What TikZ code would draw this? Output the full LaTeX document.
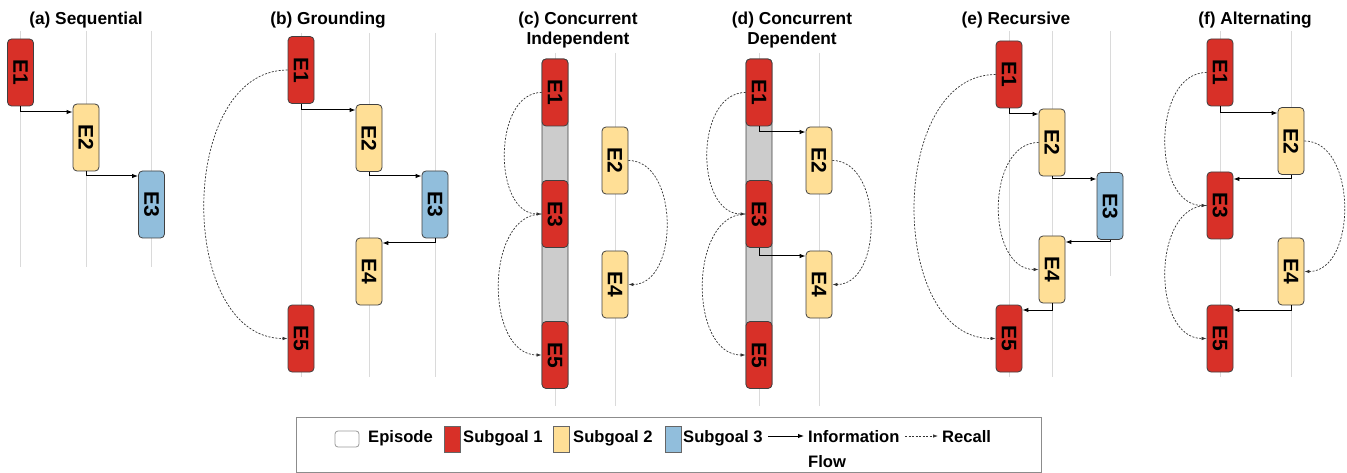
\documentclass[tikz,border=0pt]{standalone}
\usepackage{fontspec}
\setmainfont{Liberation Sans}
\usepackage{graphicx}
\definecolor{sgred}{RGB}{216,48,40}
\definecolor{sgyellow}{RGB}{255,223,150}
\definecolor{sgblue}{RGB}{145,190,220}
\definecolor{epgray}{RGB}{204,204,204}
\definecolor{lanegray}{RGB}{218,218,218}
\usetikzlibrary{arrows.meta}
\newcommand{\vlab}[1]{\rotatebox{-90}{#1}}

\begin{document}
\begin{tikzpicture}[x=1pt,y=-1pt,
  sg/.style={draw=black!75,line width=0.8pt,rounded corners=4pt,minimum width=26pt,
    minimum height=67pt,inner sep=0pt,font=\fontsize{21}{21}\selectfont\bfseries},
  sg1/.style={sg,fill=sgred},
  sg2/.style={sg,fill=sgyellow},
  sg3/.style={sg,fill=sgblue},
  epbar/.style={draw=black!75,line width=0.8pt,rounded corners=4pt,fill=epgray,
    minimum width=26pt,minimum height=329pt,inner sep=0pt},
  lane/.style={draw=lanegray,line width=0.8pt},
  ttl/.style={font=\fontsize{17.3}{20.5}\selectfont\bfseries,align=center,anchor=north,inner sep=0pt},
  flow/.style={draw=black,line width=1pt,-{Latex[length=6pt,width=4.5pt]}},
  recall/.style={draw=black!80,line width=0.7pt,dash pattern=on 2pt off 1.5pt,-{Latex[length=5pt,width=3.5pt]}},
  lgt/.style={font=\fontsize{16.6}{25}\selectfont\bfseries,anchor=base west,inner sep=0pt},
  swatch/.style={draw=black!60,line width=0.8pt,minimum width=16pt,minimum height=26pt,inner sep=0pt}
]
  \useasboundingbox (0,0) rectangle (1347,473);

  \draw[lane] (20.5,31) -- (20.5,267);
  \draw[lane] (86,31) -- (86,267);
  \draw[lane] (151.5,31) -- (151.5,267);
  \draw[lane] (301,33) -- (301,377);
  \draw[lane] (369,33) -- (369,377);
  \draw[lane] (435,33) -- (435,377);
  \draw[lane] (555,53) -- (555,406);
  \draw[lane] (615,53) -- (615,406);
  \draw[lane] (759,53) -- (759,406);
  \draw[lane] (819,53) -- (819,406);
  \draw[lane] (1009,31) -- (1009,377);
  \draw[lane] (1052,31) -- (1052,377);
  \draw[lane] (1110,31) -- (1110,276);
  \draw[lane] (1220,31) -- (1220,377);
  \draw[lane] (1291,31) -- (1291,377);

  \node[ttl] (ta) at (86,11.5) {(a) Sequential};
  \node[ttl] (tb) at (328,11.5) {(b) Grounding};
  \node[ttl] (tc) at (578,11.5) {(c) Concurrent\\Independent};
  \node[ttl] (td) at (792,11.5) {(d) Concurrent\\Dependent};
  \node[ttl] (te) at (1016,11.5) {(e) Recursive};
  \node[ttl] (tf) at (1255,11.5) {(f) Alternating};

  \node[sg1] (a1) at (20.5,72.5) {\vlab{E1}};
  \node[sg2] (a2) at (86,137.5) {\vlab{E2}};
  \node[sg3] (a3) at (151.5,204.5) {\vlab{E3}};
  \draw[flow] (a1.south) |- (a2.west |- 0,112);
  \draw[flow] (a2.south) |- (a3.west |- 0,176);

  \node[sg1] (b1) at (301,70) {\vlab{E1}};
  \node[sg2] (b2) at (369,138) {\vlab{E2}};
  \node[sg3] (b3) at (435,204.5) {\vlab{E3}};
  \node[sg2] (b4) at (369,271.5) {\vlab{E4}};
  \node[sg1] (b5) at (301,338.5) {\vlab{E5}};
  \draw[flow] (b1.south) |- (b2.west |- 0,110);
  \draw[flow] (b2.south) |- (b3.west |- 0,176);
  \draw[flow] (b3.south) |- (b4.east |- 0,243);
  \draw[recall] (b1.west) .. controls +(-111,0) and +(-111,0) .. (b5.west);

  \node[epbar] (cbar) at (555,223.5) {};
  \node[sg1] (c1) at (555,92.5) {\vlab{E1}};
  \node[sg1] (c3) at (555,214) {\vlab{E3}};
  \node[sg1] (c5) at (555,355) {\vlab{E5}};
  \node[sg2] (c2) at (615,160.5) {\vlab{E2}};
  \node[sg2] (c4) at (615,284.5) {\vlab{E4}};
  \draw[recall] (c1.west) .. controls +(-49,0) and +(-49,0) .. (c3.west);
  \draw[recall] (c3.west) .. controls +(-57,0) and +(-57,0) .. (c5.west);
  \draw[recall] (c2.east) .. controls +(51,0) and +(51,0) .. (c4.east);

  \node[epbar] (dbar) at (759,223.5) {};
  \node[sg1] (d1) at (759,92.5) {\vlab{E1}};
  \node[sg1] (d3) at (759,214) {\vlab{E3}};
  \node[sg1] (d5) at (759,355) {\vlab{E5}};
  \node[sg2] (d2) at (819,160.5) {\vlab{E2}};
  \node[sg2] (d4) at (819,284.5) {\vlab{E4}};
  \draw[flow] (d1.south) |- (d2.west |- 0,132);
  \draw[flow] (d3.south) |- (d4.west |- 0,256);
  \draw[recall] (d1.west) .. controls +(-51,0) and +(-51,0) .. (d3.west);
  \draw[recall] (d3.west) .. controls +(-57,0) and +(-57,0) .. (d5.west);
  \draw[recall] (d2.east) .. controls +(51,0) and +(51,0) .. (d4.east);

  \node[sg1] (e1) at (1009,74.5) {\vlab{E1}};
  \node[sg2] (e2) at (1052,142.5) {\vlab{E2}};
  \node[sg3] (e3) at (1110,206) {\vlab{E3}};
  \node[sg2] (e4) at (1052,269.5) {\vlab{E4}};
  \node[sg1] (e5) at (1009,338.5) {\vlab{E5}};
  \draw[flow] (e1.south) |- (e2.west |- 0,114);
  \draw[flow] (e2.south) |- (e3.west |- 0,179);
  \draw[flow] (e3.south) |- (e4.east |- 0,242);
  \draw[flow] (e4.south) |- (e5.east |- 0,310);
  \draw[recall] (e1.west) .. controls +(-108,0) and +(-108,0) .. (e5.west);
  \draw[recall] (e2.west) .. controls +(-53,0) and +(-53,0) .. (e4.west);

  \node[sg1] (f1) at (1220,72.5) {\vlab{E1}};
  \node[sg2] (f2) at (1291,141) {\vlab{E2}};
  \node[sg1] (f3) at (1220,205.5) {\vlab{E3}};
  \node[sg2] (f4) at (1291,271.5) {\vlab{E4}};
  \node[sg1] (f5) at (1220,338.5) {\vlab{E5}};
  \draw[flow] (f1.south) |- (f2.west |- 0,113);
  \draw[flow] (f2.south) |- (f3.east |- 0,179);
  \draw[flow] (f4.south) |- (f5.east |- 0,310);
  \draw[recall] (f1.west) .. controls +(-55,0) and +(-55,0) .. (f3.west);
  \draw[recall] (f3.west) .. controls +(-55,0) and +(-55,0) .. (f5.west);
  \draw[recall] (f2.east) .. controls +(53,0) and +(53,0) .. (f4.east);

  \node[draw=black!45,line width=0.8pt,minimum width=745pt,minimum height=55pt,inner sep=0pt] (legend) at (668.5,444.5) {};
  \node[draw=black!40,line width=0.8pt,fill=white,rounded corners=3pt,minimum width=24pt,minimum height=16pt,inner sep=0pt] (lgep) at (347,439) {};
  \node[lgt] (lgept) at (368,442.5) {Episode};
  \node[swatch,fill=sgred] (lg1) at (452,439) {};
  \node[lgt] (lg1t) at (463,442.5) {Subgoal 1};
  \node[swatch,fill=sgyellow] (lg2) at (561.5,439) {};
  \node[lgt] (lg2t) at (573,442.5) {Subgoal 2};
  \node[swatch,fill=sgblue] (lg3) at (673,439) {};
  \node[lgt] (lg3t) at (683,442.5) {Subgoal 3};
  \coordinate (lgf1) at (768,436);
  \coordinate (lgf2) at (804,436);
  \draw[flow] (lgf1) -- (lgf2);
  \node[lgt,anchor=north west,align=left] (lgft) at (808,430) {Information\\Flow};
  \coordinate (lgr1) at (905,436);
  \coordinate (lgr2) at (938,436);
  \draw[recall] (lgr1) -- (lgr2);
  \node[lgt] (lgrt) at (942,442.5) {Recall};
\end{tikzpicture}
\end{document}
